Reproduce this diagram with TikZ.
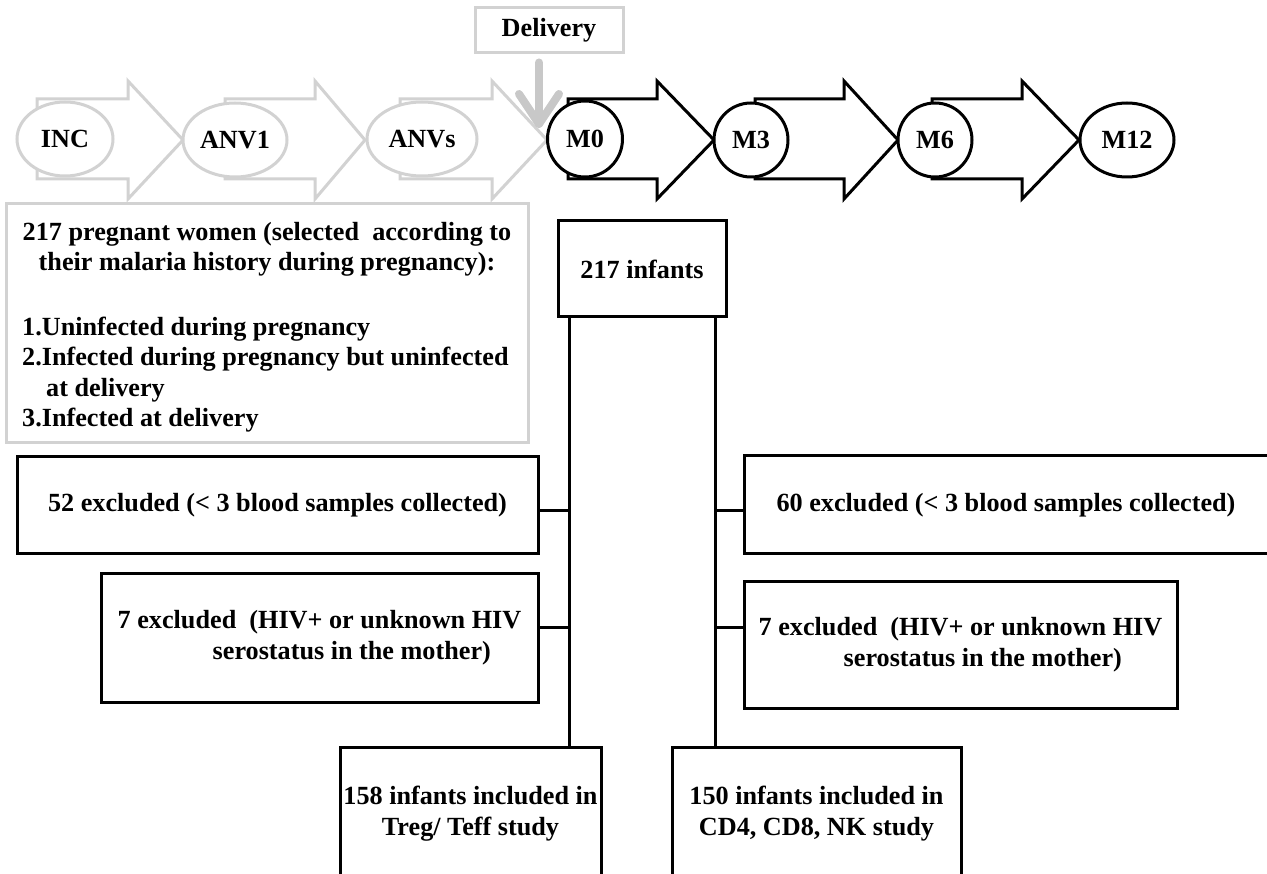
\documentclass[tikz,border=0pt]{standalone}
\usepackage{fontspec}
\setmainfont{Liberation Serif}
\usetikzlibrary{shapes.geometric}
\definecolor{lg}{RGB}{210,210,210}
\definecolor{dg}{RGB}{200,200,200}
\begin{document}
\begin{tikzpicture}[x=1pt,y=-1pt,
  txt/.style={font=\fontsize{26.2}{30.5}\selectfont\bfseries, inner sep=0pt},
  bbox/.style={draw=black, line width=3pt, fill=white, inner sep=0pt, txt},
  gbox/.style={draw=lg, line width=3pt, fill=white, inner sep=0pt, txt},
  gell/.style={ellipse, draw=lg, line width=3pt, fill=white, inner sep=0pt, txt},
  bell/.style={ellipse, draw=black, line width=3pt, fill=white, inner sep=0pt, txt},
  garrow/.style={draw=lg, line width=3pt, fill=white},
  barrow/.style={draw=black, line width=3pt, fill=white},
  conn/.style={draw=black, line width=3pt},
  delarrow/.style={draw=dg, line width=8pt, line cap=round, line join=round}
]
\useasboundingbox (0,0) rectangle (1267,874);
\clip (0,0) rectangle (1267,874);
\fill[white] (0,0) rectangle (1267,874);

% block arrows of the time line
\foreach \a/\b/\c in {37/128/183, 225/315/365, 400/492/547}
  \draw[garrow] (\a,99) -- (\b,99) -- (\b,81) -- (\c,140) -- (\b,199) -- (\b,179) -- (\a,179) -- cycle;
\foreach \a/\b/\c in {568/657/714, 755/844/898, 932/1022/1079}
  \draw[barrow] (\a,99) -- (\b,99) -- (\b,81) -- (\c,140) -- (\b,199) -- (\b,179) -- (\a,179) -- cycle;

% time points
\node[gell, minimum width=96pt, minimum height=74pt] (inc) at (65,139) {INC};
\node[gell, minimum width=104pt, minimum height=74pt] (anv1) at (235,140) {ANV1};
\node[gell, minimum width=110pt, minimum height=74pt] (anvs) at (422,139) {ANVs};
\node[bell, minimum width=75pt, minimum height=76pt] (m0) at (585,139) {M0};
\node[bell, minimum width=74pt, minimum height=74pt] (m3) at (751,140) {M3};
\node[bell, minimum width=74pt, minimum height=74pt] (m6) at (935,140) {M6};
\node[bell, minimum width=94pt, minimum height=74pt] (m12) at (1127,140) {M12};

% delivery
\node[gbox, minimum width=148pt, minimum height=45pt] (del) at (549,30.5) {Delivery};
\coordinate (dtip) at (539,124);
\draw[delarrow] (dtip |- del.south) ++(0,8) -- (dtip);
\draw[delarrow] ([shift={(-20,-30)}]dtip) -- (dtip) -- ([shift={(20,-30)}]dtip);

% pregnant women box
\node[gbox, minimum width=522pt, minimum height=239pt] (pw) at (267,323.5) {};
\node[txt, anchor=base] (pw1) at (267,241) {217 pregnant women (selected\ \ according to};
\node[txt, anchor=base] (pw2) at (267,271) {their malaria history during pregnancy):};
\node[txt, anchor=base west] (pw3) at (22,336) {1.Uninfected during pregnancy};
\node[txt, anchor=base west] (pw4) at (22,366) {2.Infected during pregnancy but uninfected};
\node[txt, anchor=base west] (pw5) at (46,397) {at delivery};
\node[txt, anchor=base west] (pw6) at (22,427) {3.Infected at delivery};

% infants flow
\node[bbox, minimum width=168pt, minimum height=96pt] (inf) at (642,269) {217 infants};
\node[bbox, minimum width=521pt, minimum height=96pt] (b52) at (277.5,505) {52 excluded (< 3 blood samples collected)};
\node[bbox, minimum width=540pt, minimum height=97pt] (b60) at (1014,504.5) {};
\node[txt] (t60) at (1006,505) {60 excluded (< 3 blood samples collected)};
\node[bbox, minimum width=437pt, minimum height=129pt, align=left] (b7l) at (319.5,637.5)
  {7 excluded\ \ (HIV+ or unknown HIV\\\hspace*{95pt}serostatus in the mother)};
\node[bbox, minimum width=433pt, minimum height=127pt, align=left] (b7r) at (960.5,644.5)
  {7 excluded\ \ (HIV+ or unknown HIV\\\hspace*{85pt}serostatus in the mother)};
\node[bbox, minimum width=261pt, minimum height=133pt, align=center] (b158) at (470.5,813.5)
  {158 infants included in\\Treg/ Teff study};
\node[bbox, minimum width=289pt, minimum height=133pt, align=center] (b150) at (816.5,813.5)
  {150 infants included in\\CD4, CD8, NK study};

\coordinate (tl52) at (569,510);
\coordinate (tl7) at (569,627);
\coordinate (tr60) at (715,510);
\coordinate (tr7) at (715,627);
\draw[conn] (inf.south -| tl52) -- (b158.north -| tl52);
\draw[conn] (inf.south -| tr60) -- (b150.north -| tr60);
\draw[conn] (b52.east |- tl52) -- (tl52);
\draw[conn] (b7l.east |- tl7) -- (tl7);
\draw[conn] (b60.west |- tr60) -- (tr60);
\draw[conn] (b7r.west |- tr7) -- (tr7);
\end{tikzpicture}
\end{document}
